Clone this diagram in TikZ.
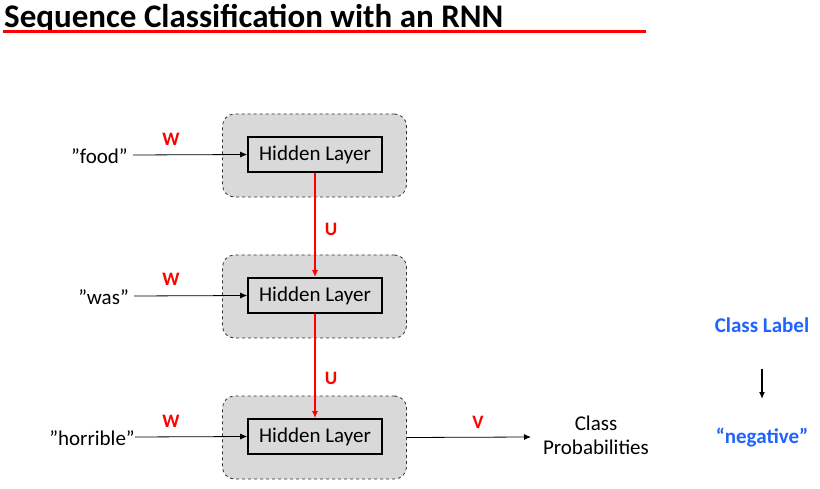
\documentclass[tikz,border=0pt]{standalone}
\usepackage{fontspec}
\setmainfont{Carlito}
\usetikzlibrary{arrows.meta}
\definecolor{boxgray}{RGB}{217,217,217}
\definecolor{lblue}{RGB}{30,100,255}
\definecolor{tred}{RGB}{255,0,0}
\tikzset{
  outerbox/.style={draw=black!80, dashed, fill=boxgray, rounded corners=12pt, minimum width=184pt, minimum height=83pt, inner sep=0pt, line width=0.8pt},
  hidbox/.style={draw=black, line width=1.6pt, fill=boxgray, minimum width=134pt, minimum height=35pt, inner sep=0pt, font=\fontsize{21}{24}\selectfont},
  inword/.style={font=\fontsize{21}{24}\selectfont, anchor=east, inner sep=0pt},
  wlab/.style={text=tred, font=\bfseries\fontsize{19}{22}\selectfont, inner sep=0pt},
  blab/.style={text=lblue, font=\bfseries\fontsize{21}{24}\selectfont, inner sep=0pt},
  flow/.style={-{Latex[length=7pt,width=6pt]}, line width=0.8pt},
  rflow/.style={-{Latex[length=7pt,width=6pt]}, line width=2pt, draw=tred},
}
\begin{document}
\begin{tikzpicture}[x=1pt,y=-1pt]
\useasboundingbox (0,0) rectangle (820,489);
% title
\node[anchor=base west, inner sep=0pt, font=\bfseries\fontsize{33}{36}\selectfont] (title) at (4,28) {Sequence Classification with an RNN};
\draw[tred, line width=3pt] (3,31.5) -- (646,31.5);
% outer boxes
\node[outerbox] (o1) at (314.5,155.5) {};
\node[outerbox] (o2) at (314.5,296.5) {};
\node[outerbox] (o3) at (314.5,437.5) {};
% hidden layers
\node[hidbox] (h1) at (315,154.5) {Hidden Layer};
\node[hidbox] (h2) at (315,295.5) {Hidden Layer};
\node[hidbox] (h3) at (315,436.5) {Hidden Layer};
% inputs
\node[inword] (x1) at (128,156) {”food”};
\node[inword] (x2) at (129,297) {”was”};
\node[inword] (x3) at (135,438) {”horrible”};
\draw[flow] (x1.east) ++(5,-1) coordinate (s1) -- (h1.west);
\draw[flow] (x2.east) ++(5,-1) coordinate (s2) -- (h2.west);
\draw[flow] (x3.east) ++(0,-1) coordinate (s3) -- (h3.west);
\node[wlab] (w1) at (171,139) {W};
\node[wlab] (w2) at (171,279) {W};
\node[wlab] (w3) at (171,421) {W};
% recurrent
\draw[rflow] (h1.south) -- (h2.north);
\draw[rflow] (h2.south) -- (h3.north);
\node[wlab] (u1) at (331,229) {U};
\node[wlab] (u2) at (331,378) {U};
% output
\node[font=\fontsize{21}{24}\selectfont, align=center, inner sep=0pt] (cp) at (596,435) {Class\\Probabilities};
\draw[flow] (o3.east) -- (531,437) coordinate (oe);
\node[wlab] (v) at (478,422) {V};
% class label
\node[blab] (cl) at (762,325) {Class Label};
\node[blab] (neg) at (762,438) {“negative”};
\draw[-{Latex[length=7pt,width=6pt]}, line width=1.6pt] (762,369) coordinate (a1) -- (762,399) coordinate (a2);
\end{tikzpicture}
\end{document}
